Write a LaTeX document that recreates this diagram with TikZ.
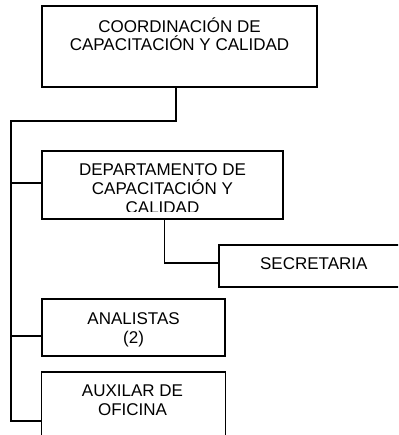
\documentclass[tikz,border=0pt]{standalone}
\usepackage{fontspec}
\setmainfont{Liberation Sans}
\begin{document}
\begin{tikzpicture}[x=1pt,y=-1pt,
  box/.style={draw, line width=1.6pt, inner sep=0pt, outer sep=0pt, anchor=north west},
  lbl/.style={font=\fontsize{17}{18.8}\selectfont, align=center, inner sep=0pt, anchor=base},
  conn/.style={line width=1.6pt}]
\useasboundingbox (0,0) rectangle (398,435);
\clip (0,0) rectangle (398,435);
% boxes
\node[box, minimum width=275, minimum height=81] (coord) at (42,6) {};
\node[box, minimum width=241, minimum height=68] (dept) at (42,151) {};
\node[box, minimum width=190, minimum height=42] (sec) at (219,245) {};
\node[box, minimum width=183, minimum height=57] (anal) at (42,299) {};
\node[box, minimum width=184, minimum height=80] (aux) at (41.5,372) {};
% texts (base anchor = baseline of last line)
\node[lbl] (coordT) at (179.5,51) {COORDINACIÓN DE\\CAPACITACIÓN Y CALIDAD};
\begin{scope}
  \clip (42,151) rectangle (283,211.5);
  \node[lbl] (deptT) at (162.5,213.3) {DEPARTAMENTO DE\\CAPACITACIÓN Y\\CALIDAD};
\end{scope}
\node[lbl] (secT) at (313.8,269) {SECRETARIA};
\node[lbl] (analT) at (133.6,343) {ANALISTAS\\(2)};
\node[lbl] (auxT) at (132.5,415) {AUXILAR DE\\OFICINA};
% connectors
\coordinate (t1) at (176,121);
\coordinate (spine) at (11,121);
\coordinate (bot) at (11,421);
\coordinate (jd) at (11,183);
\coordinate (ja) at (11,336);
\coordinate (js) at (164.5,263);
\draw[conn] (coord.south -| t1) -- (t1) -- (spine) -- (bot) -- (bot -| aux.west);
\draw[conn] (jd) -- (jd -| dept.west);
\draw[conn] (ja) -- (ja -| anal.west);
\draw[conn] (dept.south -| js) -- (js) -- (js -| sec.west);
\end{tikzpicture}
\end{document}
